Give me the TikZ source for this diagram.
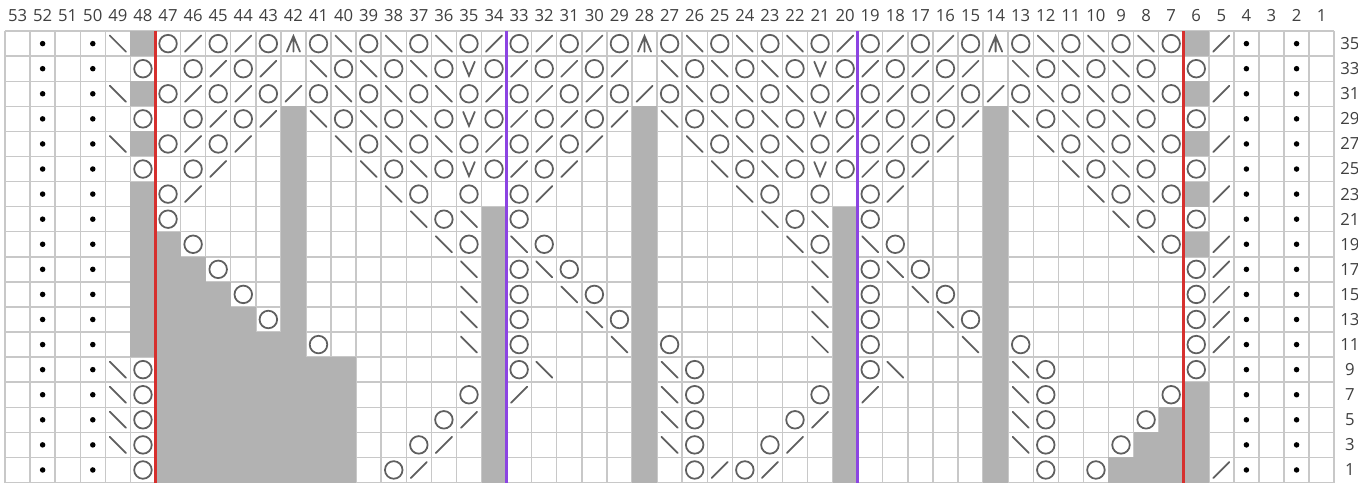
\documentclass[tikz,border=0pt]{standalone}
\usepackage{fontspec}
\setmainfont{Open Sans}

\definecolor{gridgray}{RGB}{200,200,200}
\definecolor{nostitch}{RGB}{178,178,178}
\definecolor{symbgray}{RGB}{95,95,95}
\definecolor{numgray}{RGB}{64,64,64}
\definecolor{redline}{RGB}{214,48,46}
\definecolor{purpleline}{RGB}{140,68,226}

% one chart row: a string of cell codes, col 53 first
% . empty, d purl dot, o yarn over, s k2tog, b ssk, a double dec, v, g no stitch
\newcount\cellx
\def\chartrow#1#2{\global\cellx=0 \def\cury{#1}\readcell#2\relax}
\def\readcell#1{\ifx#1\relax\else\putcell{#1}\global\advance\cellx by 1 \expandafter\readcell\fi}
\newcommand{\putcell}[1]{%
  \if#1g\fill[nostitch] (\the\cellx,\cury) rectangle ++(1,1);\fi
  \if#1d\fill[black] (\the\cellx+0.5,\cury+0.5) circle[radius=0.11];\fi
  \if#1o\draw[stitch] (\the\cellx+0.5,\cury+0.5) circle[radius=0.35];\fi
  \if#1s\draw[stitch] (\the\cellx+0.18,\cury+0.18) -- ++(0.64,0.64);\fi
  \if#1b\draw[stitch] (\the\cellx+0.18,\cury+0.82) -- ++(0.64,-0.64);\fi
  \if#1a\draw[stitch] (\the\cellx+0.24,\cury+0.18) -- ++(0.26,0.62) -- ++(0.26,-0.62)
    (\the\cellx+0.5,\cury+0.8) -- ++(0,-0.62);\fi
  \if#1v\draw[stitch] (\the\cellx+0.27,\cury+0.78) -- ++(0.23,-0.56) -- ++(0.23,0.56);\fi
}

\begin{document}
\begin{tikzpicture}[x=0.5016cm, y=0.5016cm,
    gridline/.style={draw=gridgray, line width=0.8pt},
    stitch/.style={draw=symbgray, line width=1pt, line cap=round},
    colnum/.style={font=\fontsize{9.5}{11}\selectfont, text=numgray, inner sep=0pt},
    rownum/.style={colnum},
    edgeline/.style={draw=redline, line width=1.8pt},
    repeatline/.style={draw=purpleline, line width=1.8pt}
]
\fill[white] (-0.2,-0.16) rectangle (53.95,19.24);
\useasboundingbox (-0.2,-0.16) rectangle (53.95,19.24);

% grid
\draw[gridline, step={(1,1)}] (0,0) grid (53,18);

% rows 35 down to 1
\chartrow{17}{.d.db gososoaobobobos ososoaobobobos ososoaobobobog sd.d.}
\chartrow{16}{.d.d. o.osos.bobobovo sosos.bobobovo sosos.bobobo.o .d.d.}
\chartrow{15}{.d.db gosososobobobos osososobobobos osososobobobog sd.d.}
\chartrow{14}{.d.d. o.ososgbobobovo sososgbobobovo sososgbobobo.o .d.d.}
\chartrow{13}{.d.db gosos.g.bobobos osos.g.bobobos osos.g.bobobog sd.d.}
\chartrow{12}{.d.d. o.os..g..bobovo sos..g..bobovo sos..g..bobo.o .d.d.}
\chartrow{11}{.d.d. gos...g...bo.o. os...g...bo.o. os...g...bobog sd.d.}
\chartrow{10}{.d.d. go....g....bobg o....g....bobg o....g....bo.o .d.d.}
\chartrow{9}{.d.d. ggo...g.....bog bo...g.....bog bo...g.....bog sd.d.}
\chartrow{8}{.d.d. gggo..g......bg obo..g......bg obo..g.......o sd.d.}
\chartrow{7}{.d.d. ggggo.g......bg o.bo.g......bg o.bo.g.......o sd.d.}
\chartrow{6}{.d.d. gggggog......bg o..bog......bg o..bog.......o sd.d.}
\chartrow{5}{.d.d. gggggggo.....bg o...bgo.....bg o...bgo......o sd.d.}
\chartrow{4}{.d.db ogggggggg.....g ob...gbo.....g ob...gbo.....o .d.d.}
\chartrow{3}{.d.db ogggggggg....og s....gbo....og s....gbo....og .d.d.}
\chartrow{2}{.d.db ogggggggg...osg .....gbo...osg .....gbo...ogg .d.d.}
\chartrow{1}{.d.db ogggggggg..os.g .....gbo..os.g .....gbo..oggg .d.d.}
\chartrow{0}{.d.d. ogggggggg.os..g .....g.osos..g .....g.o.ogggg sd.d.}

% edge stitches and pattern repeat
\draw[edgeline] (6,0) -- (6,18);
\draw[edgeline] (47,0) -- (47,18);
\draw[repeatline] (20,0) -- (20,18);
\draw[repeatline] (34,0) -- (34,18);

% stitch and row numbers
\foreach \c in {1,...,53}
    \node[colnum] (col\c) at (53.5-\c,18.62) {\c};
\foreach \r in {0,...,17} {
    \pgfmathtruncatemacro{\n}{2*\r+1}
    \node[rownum] (row\n) at (53.63,\r+0.5) {\n};
}
\end{tikzpicture}
\end{document}
